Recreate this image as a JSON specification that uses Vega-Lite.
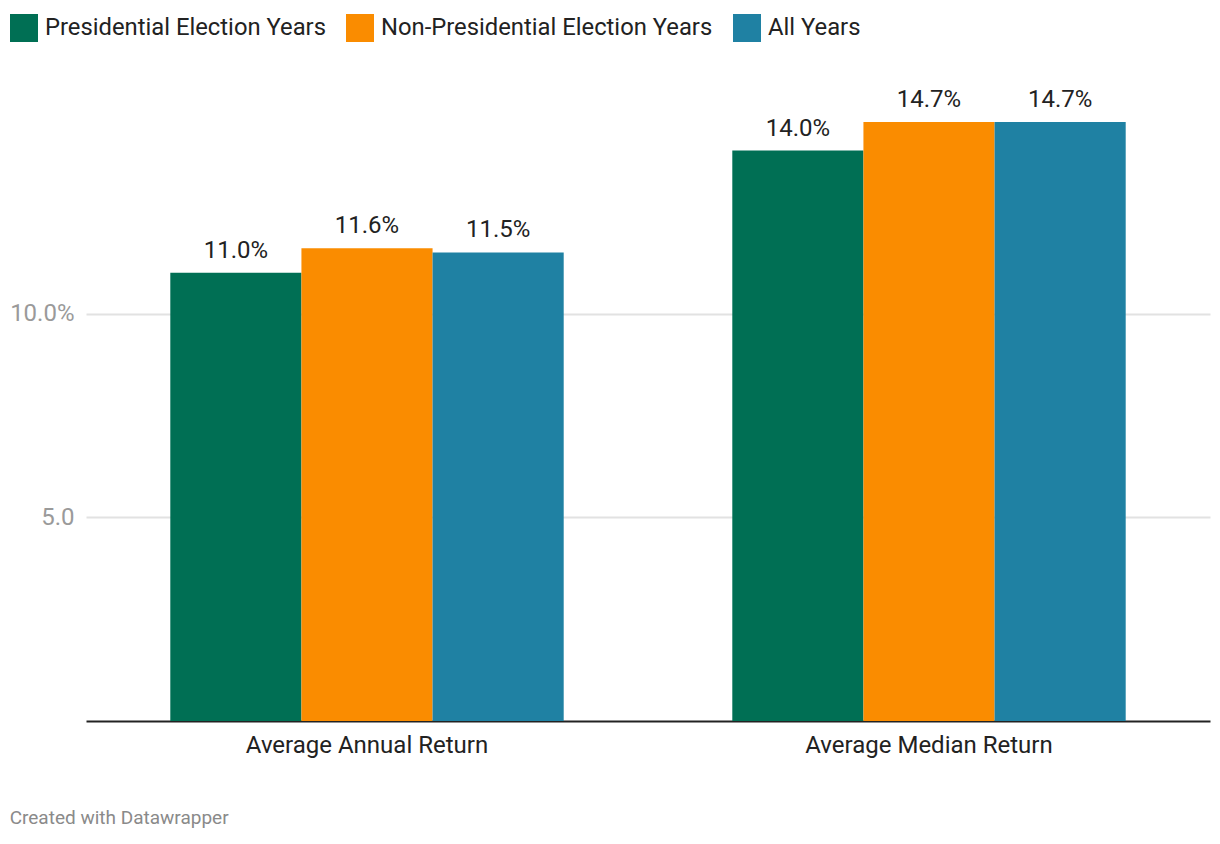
{
  "$schema": "https://vega.github.io/schema/vega-lite/v6.json",
  "autosize": {"type": "none"},
  "width": 1124,
  "height": 652,
  "padding": {"left": 86, "top": 69, "right": 10, "bottom": 123},
  "background": "white",
  "config": {
    "font": "Roboto",
    "view": {"stroke": null}
  },
  "title": {
    "text": "Created with Datawrapper",
    "orient": "bottom",
    "anchor": "start",
    "frame": "bounds",
    "offset": 52,
    "fontSize": 19,
    "fontWeight": "normal",
    "color": "#8a8a8a",
    "font": "Roboto"
  },
  "data": {
    "values": [
      {"measure": "Average Annual Return", "series": "Presidential Election Years", "value": 11.0, "label": "11.0%"},
      {"measure": "Average Annual Return", "series": "Non-Presidential Election Years", "value": 11.6, "label": "11.6%"},
      {"measure": "Average Annual Return", "series": "All Years", "value": 11.5, "label": "11.5%"},
      {"measure": "Average Median Return", "series": "Presidential Election Years", "value": 14.0, "label": "14.0%"},
      {"measure": "Average Median Return", "series": "Non-Presidential Election Years", "value": 14.7, "label": "14.7%"},
      {"measure": "Average Median Return", "series": "All Years", "value": 14.7, "label": "14.7%"}
    ]
  },
  "encoding": {
    "x": {
      "field": "measure",
      "type": "nominal",
      "sort": ["Average Annual Return", "Average Median Return"],
      "scale": {"paddingInner": 0.3, "paddingOuter": 0.15},
      "axis": {
        "title": null,
        "labelAngle": 0,
        "labelFontSize": 24,
        "labelColor": "#222222",
        "labelPadding": 12,
        "labelLimit": 600,
        "ticks": false,
        "domainColor": "#222222",
        "domainWidth": 2,
        "grid": false
      }
    },
    "xOffset": {
      "field": "series",
      "type": "nominal",
      "sort": ["Presidential Election Years", "Non-Presidential Election Years", "All Years"],
      "scale": {"paddingInner": 0, "paddingOuter": 0}
    },
    "y": {
      "field": "value",
      "type": "quantitative",
      "scale": {"domain": [0, 16], "nice": false},
      "axis": {
        "title": null,
        "values": [5, 10],
        "labelExpr": "datum.value == 10 ? '10.0%' : '5.0'",
        "labelFontSize": 24,
        "labelColor": "#9a9a9a",
        "labelPadding": 12,
        "ticks": false,
        "domain": false,
        "gridColor": "#e2e2e2",
        "gridWidth": 2
      }
    }
  },
  "layer": [
    {
      "mark": {"type": "bar"},
      "encoding": {
        "color": {
          "field": "series",
          "type": "nominal",
          "sort": ["Presidential Election Years", "Non-Presidential Election Years", "All Years"],
          "scale": {
            "domain": ["Presidential Election Years", "Non-Presidential Election Years", "All Years"],
            "range": ["#006f54", "#fa8c00", "#1f81a3"]
          },
          "legend": {
            "title": null,
            "orient": "none",
            "legendX": -76,
            "legendY": -55,
            "direction": "horizontal",
            "columns": 3,
            "symbolType": "square",
            "symbolSize": 784,
            "symbolStrokeWidth": 0,
            "symbolOpacity": 1,
            "labelFontSize": 23.8,
            "labelColor": "#222222",
            "labelOffset": 7,
            "columnPadding": 20,
            "labelLimit": 600
          }
        }
      }
    },
    {
      "mark": {"type": "text", "baseline": "alphabetic", "dy": -15, "fontSize": 24, "color": "#222222"},
      "encoding": {
        "text": {"field": "label", "type": "nominal"}
      }
    }
  ]
}
